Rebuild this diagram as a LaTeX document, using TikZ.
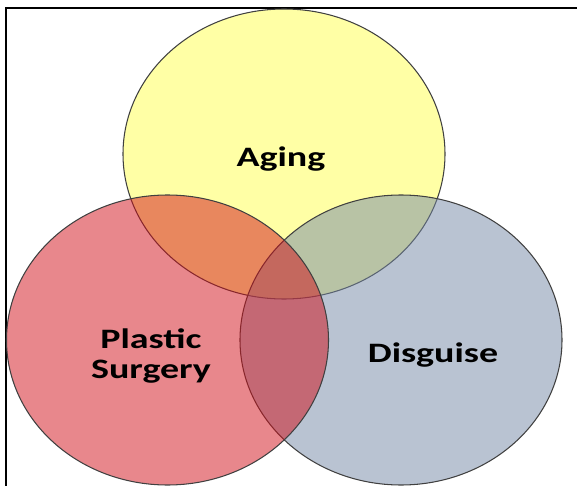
\documentclass[tikz,border=0pt]{standalone}
\usepackage{fontspec}
\newfontfamily\vennfont[FakeStretch=1.35]{Carlito}
\usetikzlibrary{shapes.geometric}

\definecolor{agingcol}{RGB}{255,255,75}
\definecolor{disgcol}{RGB}{115,135,165}
\definecolor{surgcol}{RGB}{209,15,25}

\begin{document}
\begin{tikzpicture}[
  setbox/.style={draw=black!75, line width=0.6pt, ellipse, minimum width=6.44cm, minimum height=5.8cm, inner sep=0pt, fill opacity=0.5},
  setlabel/.style={font=\vennfont\bfseries\fontsize{16}{17}\selectfont, text=black, align=center, inner sep=0pt}
]
\useasboundingbox (0,0) rectangle (11.54,9.72);

% ==================== Frame ====================
\draw[line width=1.5pt] (11.54,9.56) -- (0.12,9.56) -- (0.12,0);

% ==================== Sets ====================
\node[setbox, fill=agingcol] (aging) at (5.68, 6.64) {};
\node[setbox, fill=disgcol] (disguise) at (8.02, 2.92) {};
\node[setbox, fill=surgcol] (surgery) at (3.35, 2.92) {};

% ==================== Labels ====================
\node[setlabel, anchor=base] (aging_lbl) at (5.62, 6.38) {Aging};
\node[setlabel] (surgery_lbl) at (3.02, 2.6) {Plastic\\Surgery};
\node[setlabel, anchor=base] (disguise_lbl) at (8.66, 2.48) {Disguise};

\end{tikzpicture}
\end{document}
